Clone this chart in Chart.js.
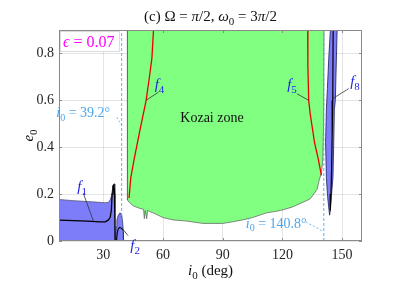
<!DOCTYPE html>
<html>
<head>
<meta charset="utf-8">
<script src="https://cdn.jsdelivr.net/npm/chart.js@4.4.1/dist/chart.umd.min.js"></script>
<style>
  body { margin: 0; background: #fff; }
  #wrap { width: 407px; height: 288px; }
</style>
</head>
<body>
<div id="wrap"><canvas id="kozaiChart" width="407" height="288"></canvas></div>
<script>
const xTicks = [30, 60, 90, 120, 150];
const yTicks = [0, 0.2, 0.4, 0.6, 0.8];

// Kozai zone (green) outline
const kozaiI = [42.1, 42.1, 43, 45, 48, 50.2, 50.6, 51.0, 51.8, 52.2, 55, 60, 65, 72, 80, 90, 95, 100, 105, 112, 119, 125, 129, 134, 137.4, 138.5, 139.6, 140.3, 140.7, 140.9];
const kozaiE = [0.9, 0.175, 0.165, 0.15, 0.14, 0.135, 0.095, 0.13, 0.095, 0.13, 0.12, 0.1, 0.09, 0.085, 0.075, 0.075, 0.082, 0.09, 0.1, 0.12, 0.13, 0.145, 0.16, 0.18, 0.22, 0.26, 0.29, 0.35, 0.5, 0.9];

// blue region under f1
const f1AreaI = [7.7, 15, 22.4, 28, 30.9, 32.5, 33.4, 34.0, 34.5, 35.0, 35.5, 35.8, 35.9, 7.7];
const f1AreaE = [0.177, 0.172, 0.168, 0.165, 0.163, 0.165, 0.175, 0.19, 0.217, 0.235, 0.243, 0.2, 0, 0];
// f1 curve
const f1I = [7.7, 15, 22, 28.3, 30.9, 32.4, 33.4, 34.0, 34.4, 34.8, 35.3, 35.6, 35.8, 35.9];
const f1E = [0.089, 0.087, 0.085, 0.082, 0.082, 0.089, 0.1, 0.13, 0.2, 0.235, 0.24, 0.2, 0.1, 0];

// blue blob under f2
const f2AreaI = [36.2, 36.4, 36.8, 37.5, 38.4, 39.2, 39.7, 40.0, 40.1];
const f2AreaE = [0, 0.06, 0.09, 0.11, 0.12, 0.11, 0.08, 0.04, 0];
const f2I = [36.6, 36.9, 37.4, 38.1, 39.0, 39.6, 40.0];
const f2E = [0, 0.03, 0.05, 0.058, 0.055, 0.05, 0.045];

// red curves f4, f5
const f4I = [55.2, 54.4, 53.0, 51.5, 48.8, 45.5, 43.8, 42.9];
const f4E = [0.9, 0.78, 0.69, 0.6, 0.49, 0.35, 0.27, 0.183];
const f5I = [132.7, 132.8, 133.2, 134.0, 136.2, 138.0, 139.6];
const f5E = [0.9, 0.75, 0.6, 0.54, 0.417, 0.35, 0.28];

// blue band around f8
const f8AreaI = [143.7, 142.7, 142.1, 141.7, 142.1, 142.6, 143.3, 144.1, 147.5, 146.6, 146.1, 145.8, 145.4, 144.6, 144.1, 143.7];
const f8AreaE = [0.11, 0.19, 0.27, 0.42, 0.56, 0.65, 0.78, 0.9, 0.9, 0.6, 0.56, 0.42, 0.27, 0.19, 0.13, 0.11];
const f8I = [145.5, 145.3, 145.0, 144.7, 144.4, 144.0];
const f8E = [0.9, 0.6, 0.45, 0.3, 0.2, 0.13];

// critical inclinations
const critI = [39.2, 140.8];

const FONT = "'Liberation Serif', 'DejaVu Serif', serif";
const BLUE_TXT = '#1f1fe6';
const CRIT_CLR = '#4da6ec';

function pts(xs, ys) {
  return xs.map((x, i) => ({ x: x, y: ys[i] }));
}

function drawMath(ctx, parts, x, y, align, size, color) {
  ctx.save();
  ctx.fillStyle = color;
  ctx.textBaseline = 'alphabetic';
  const fontFor = k => (k === 'i' ? 'italic ' : '') + (k === 'sub' ? Math.round(size * 0.7) : size) + 'px ' + FONT;
  let w = 0;
  parts.forEach(p => { ctx.font = fontFor(p[1]); w += ctx.measureText(p[0]).width; });
  let cx = align === 'center' ? x - w / 2 : align === 'right' ? x - w : x;
  parts.forEach(p => {
    ctx.font = fontFor(p[1]);
    ctx.fillText(p[0], cx, y + (p[1] === 'sub' ? size * 0.25 : 0));
    cx += ctx.measureText(p[0]).width;
  });
  ctx.restore();
  return w;
}

function line(ctx, x1, y1, x2, y2, color, dash) {
  ctx.save();
  ctx.strokeStyle = color;
  ctx.lineWidth = 0.8;
  ctx.setLineDash(dash || []);
  ctx.beginPath();
  ctx.moveTo(x1, y1);
  ctx.lineTo(x2, y2);
  ctx.stroke();
  ctx.restore();
}

const textPlugin = {
  id: 'texts',
  afterDraw(chart) {
    const ctx = chart.ctx;
    const a = chart.chartArea;
    const sx = chart.scales.x, sy = chart.scales.y;
    const X = v => sx.getPixelForValue(v), Y = v => sy.getPixelForValue(v);

    // box + inner ticks
    ctx.save();
    ctx.strokeStyle = '#8a8a8a';
    ctx.lineWidth = 1;
    ctx.strokeRect(a.left + 0.5, a.top + 0.5, a.right - a.left - 1, a.bottom - a.top - 1);
    ctx.beginPath();
    xTicks.forEach(t => {
      const p = Math.round(X(t)) + 0.5;
      ctx.moveTo(p, a.bottom); ctx.lineTo(p, a.bottom - 3);
      ctx.moveTo(p, a.top); ctx.lineTo(p, a.top + 3);
    });
    yTicks.forEach(t => {
      const p = Math.round(Y(t)) + 0.5;
      ctx.moveTo(a.left, p); ctx.lineTo(a.left + 3, p);
      ctx.moveTo(a.right, p); ctx.lineTo(a.right - 3, p);
    });
    ctx.stroke();
    ctx.restore();

    // title
    drawMath(ctx, [['(c) ', 'r'], ['Ω', 'r'], [' = ', 'r'], ['π', 'i'], ['/2, ', 'r'], ['ω', 'i'], ['0', 'sub'], [' = 3', 'r'], ['π', 'i'], ['/2', 'r']],
      (a.left + a.right) / 2, 21, 'center', 15, '#111');
    // axis titles
    drawMath(ctx, [['i', 'i'], ['0', 'sub'], [' (deg)', 'r']], (a.left + a.right) / 2, 275, 'center', 15, '#111');
    ctx.save();
    ctx.translate(28, (a.top + a.bottom) / 2);
    ctx.rotate(-Math.PI / 2);
    drawMath(ctx, [['e', 'i'], ['0', 'sub']], 0, 5, 'center', 15, '#111');
    ctx.restore();

    // epsilon box
    ctx.save();
    ctx.fillStyle = '#fff';
    ctx.strokeStyle = '#d4d4d4';
    ctx.lineWidth = 0.8;
    ctx.fillRect(a.left + 1, a.top + 1, 60, 21);
    ctx.strokeRect(a.left + 1.5, a.top + 1.5, 59, 20);
    ctx.restore();
    drawMath(ctx, [['ϵ', 'i'], [' = 0.07', 'r']], a.left + 4, a.top + 17, 'left', 16, '#ff00ff');

    // Kozai zone
    drawMath(ctx, [['Kozai zone', 'r']], X(84.6), Y(0.529) + 5, 'center', 14, '#111');

    // critical inclination labels
    drawMath(ctx, [['i', 'i'], ['0', 'sub'], [' = 39.2°', 'r']], X(33.4), Y(0.549) + 5, 'right', 14, CRIT_CLR);
    line(ctx, X(36.7), Y(0.528), X(39.2), Y(0.494), CRIT_CLR, [2, 2]);
    drawMath(ctx, [['i', 'i'], ['0', 'sub'], [' = 140.8°', 'r']], X(116.9), Y(0.077) + 5, 'center', 14, CRIT_CLR);
    line(ctx, X(131.8), Y(0.081), X(140.7), Y(0.04), CRIT_CLR, [2, 2]);

    // curve labels with pointers
    const labs = [
      ['1', 19.3, 0.23, 19.9, 0.204, 25.0, 0.085],
      ['2', 46.0, -0.021, 42.4, 0.023, 40.1, 0.047],
      ['4', 58.2, 0.664, 57.7, 0.635, 51.5, 0.6],
      ['5', 124.8, 0.664, 127.3, 0.628, 133.2, 0.6],
      ['8', 156.5, 0.678, 153.3, 0.65, 145.4, 0.608]
    ];
    labs.forEach(l => {
      drawMath(ctx, [['f', 'i'], [l[0], 'sub']], X(l[1]), Y(l[2]) + 4, 'center', 15, BLUE_TXT);
      line(ctx, X(l[3]), Y(l[4]), X(l[5]), Y(l[6]), '#333');
    });
  }
};

const area = (xs, ys, fill, border, order) => ({
  data: pts(xs, ys), fill: 'shape', backgroundColor: fill, borderColor: border,
  borderWidth: 0.8, pointRadius: 0, tension: 0, order: order
});
const curve = (xs, ys, color, width, order) => ({
  data: pts(xs, ys), fill: false, borderColor: color, borderWidth: width,
  pointRadius: 0, tension: 0, order: order
});
const crit = v => ({
  data: [{ x: v, y: 0 }, { x: v, y: 0.9 }], fill: false, borderColor: CRIT_CLR,
  borderWidth: 0.9, borderDash: [3, 2], pointRadius: 0, order: 2
});

new Chart(document.getElementById('kozaiChart'), {
  type: 'line',
  data: {
    datasets: [
      area(kozaiI, kozaiE, '#80ff80', '#6a6a6a', 10),
      area(f1AreaI, f1AreaE, '#7d7dfa', '#555577', 10),
      area(f2AreaI, f2AreaE, '#7d7dfa', '#333355', 10),
      area(f8AreaI, f8AreaE, '#7d7dfa', '#1c1c5a', 10),
      crit(critI[0]),
      crit(critI[1]),
      curve(f1I, f1E, '#000', 1.3, 1),
      curve(f2I, f2E, '#000', 1.1, 1),
      curve(f4I, f4E, '#ee0000', 1.3, 1),
      curve(f5I, f5E, '#ee0000', 1.3, 1),
      curve(f8I, f8E, '#000', 1.2, 1)
    ]
  },
  options: {
    responsive: false,
    animation: false,
    events: [],
    layout: { padding: { left: 0, right: 45, top: 30, bottom: 0 } },
    plugins: { legend: { display: false }, tooltip: { enabled: false }, title: { display: false } },
    scales: {
      x: {
        type: 'linear', min: 7.7, max: 160, z: 1,
        afterBuildTicks: s => { s.ticks = xTicks.map(v => ({ value: v })); },
        afterFit: s => { s.height = 47; },
        grid: { color: 'rgba(0,0,0,0.1)', drawTicks: false },
        border: { display: false },
        ticks: { padding: 6, color: '#262626', font: { family: FONT, size: 14 } }
      },
      y: {
        type: 'linear', min: 0, max: 0.9, z: 1,
        afterBuildTicks: s => { s.ticks = yTicks.map(v => ({ value: v })); },
        afterFit: s => { s.width = 59; },
        grid: { color: 'rgba(0,0,0,0.1)', drawTicks: false },
        border: { display: false },
        ticks: { padding: 5, color: '#262626', font: { family: FONT, size: 14 },
                 callback: v => String(Math.round(v * 10) / 10) }
      }
    }
  },
  plugins: [textPlugin]
});
</script>
</body>
</html>
